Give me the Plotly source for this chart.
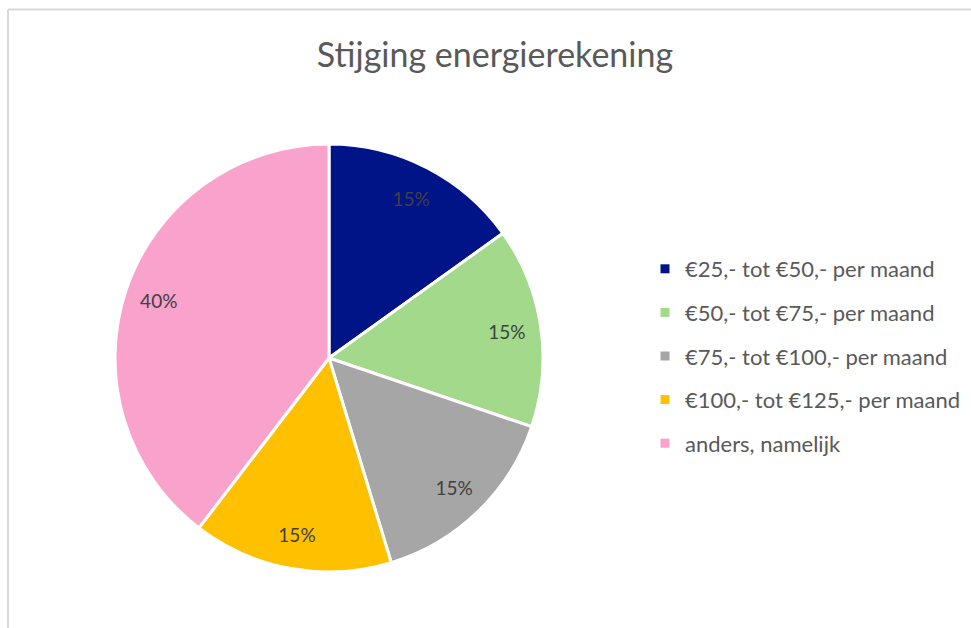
import plotly.graph_objects as go

categories = [
    "€25,- tot €50,- per maand",
    "€50,- tot €75,- per maand",
    "€75,- tot €100,- per maand",
    "€100,- tot €125,- per maand",
    "anders, namelijk",
]
# shares (%); labels show them rounded
values = [15.1, 15.1, 15.1, 15.1, 39.6]
colors = ["#001387", "#A3D98A", "#A6A6A6", "#FFC000", "#F9A2CB"]

W, H = 971, 628
FONT = "Lato, Carlito, Calibri, sans-serif"
pie_domain = dict(x=[115 / W, 543 / W], y=[1 - 572 / H, 1 - 144 / H])

fig = go.Figure()
# the coloured slices
fig.add_trace(go.Pie(
    labels=categories,
    values=values,
    sort=False,
    direction="clockwise",
    rotation=0,
    marker=dict(colors=colors, line=dict(color="white", width=3)),
    textinfo="none",
    hoverinfo="label+percent",
    showlegend=False,
    domain=pie_domain,
))
# transparent ring carrying the percentage labels near the rim
fig.add_trace(go.Pie(
    labels=categories,
    values=values,
    sort=False,
    direction="clockwise",
    rotation=0,
    hole=0.68,
    marker=dict(colors=["rgba(0,0,0,0)"] * len(values),
                line=dict(color="rgba(0,0,0,0)", width=0)),
    texttemplate="%{percent:.0%}",
    textposition="inside",
    insidetextorientation="horizontal",
    textfont=dict(family=FONT, size=19, color="#404040"),
    hoverinfo="skip",
    showlegend=False,
    domain=pie_domain,
))

# legend entries
for cat, col in zip(categories, colors):
    fig.add_trace(go.Scatter(
        x=[None], y=[None], mode="markers", name=cat,
        legendgroup=cat,
        marker=dict(symbol="square", size=9, color=col),
        showlegend=True,
    ))

fig.update_layout(
    width=W, height=H,
    margin=dict(l=0, r=0, t=0, b=0),
    paper_bgcolor="white",
    plot_bgcolor="white",
    title=dict(
        text="Stijging energierekening",
        x=495 / W, xanchor="center",
        y=1 - 55 / H, yanchor="middle",
        font=dict(family=FONT, size=34, color="#595959"),
    ),
    xaxis=dict(visible=False),
    yaxis=dict(visible=False),
    legend=dict(
        x=645 / W, xanchor="left",
        y=1 - 248 / H, yanchor="top",
        font=dict(family=FONT, size=22, color="#595959"),
        tracegroupgap=12,
        itemclick=False,
        bgcolor="rgba(0,0,0,0)",
    ),
    shapes=[
        dict(type="line", xref="paper", yref="paper",
             x0=8 / W, x1=1, y0=1 - 9.5 / H, y1=1 - 9.5 / H,
             line=dict(color="#D9D9D9", width=2)),
        dict(type="line", xref="paper", yref="paper",
             x0=8 / W, x1=8 / W, y0=0, y1=1 - 9.5 / H,
             line=dict(color="#D9D9D9", width=2)),
    ],
)

fig.write_html("out.html", config={"displayModeBar": False},
               post_script="document.body.style.margin='0';")
